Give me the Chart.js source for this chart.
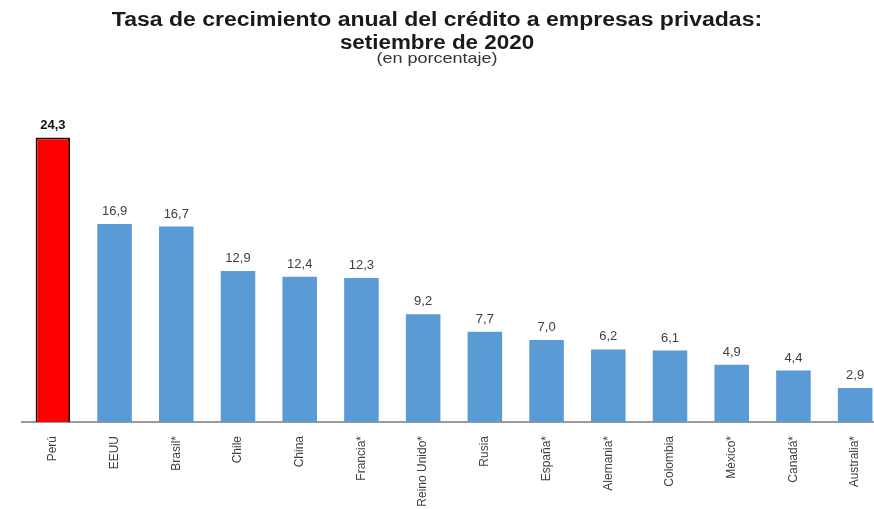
<!DOCTYPE html>
<html>
<head>
<meta charset="utf-8">
<script src="https://cdn.jsdelivr.net/npm/chart.js@4"></script>
<style>
    html, body { margin: 0; padding: 0; background: #fff; overflow: hidden; }
    body { width: 874px; height: 509px; position: relative; font-family: 'Liberation Sans', Arial, sans-serif; }
    .titulo { position: absolute; left: 0; width: 874px; text-align: center; color: #1a1a1a; white-space: nowrap; transform-origin: 437px 50%; }
    #t1 { top: 7px; font-size: 20px; line-height: 24px; font-weight: bold; transform: scaleX(1.15); }
    #t2 { top: 30px; font-size: 20px; line-height: 24px; font-weight: bold; transform: scaleX(1.12); }
    #t3 { top: 49px; font-size: 15px; line-height: 18px; color: #333; transform: scaleX(1.2); }
    #wrap { position: absolute; left: 0; top: 0; width: 886px; height: 509px; }
</style>
</head>
<body>
<div id="wrap"><canvas id="creditoChart"></canvas></div>
<div class="titulo" id="t1">Tasa de crecimiento anual del crédito a empresas privadas:</div>
<div class="titulo" id="t2">setiembre de 2020</div>
<div class="titulo" id="t3">(en porcentaje)</div>
<script>
const paises = ['Perú', 'EEUU', 'Brasil*', 'Chile', 'China', 'Francia*', 'Reino Unido*', 'Rusia', 'España*', 'Alemania*', 'Colombia', 'México*', 'Canadá*', 'Australia*'];
const crecimiento = [24.3, 16.9, 16.7, 12.9, 12.4, 12.3, 9.2, 7.7, 7.0, 6.2, 6.1, 4.9, 4.4, 2.9];

const colores = paises.map((p) => (p === 'Perú' ? '#ff0000' : '#5b9bd5'));
const bordes = paises.map((p) => (p === 'Perú' ? '#3a0000' : '#5b9bd5'));
const bordeAncho = paises.map((p) => (p === 'Perú' ? 2 : 0));

// etiquetas de valor encima de cada barra
const etiquetas = {
    id: 'etiquetas',
    afterDatasetsDraw(chart) {
        const ctx = chart.ctx;
        const meta = chart.getDatasetMeta(0);
        ctx.save();
        ctx.textAlign = 'center';
        ctx.textBaseline = 'bottom';
        meta.data.forEach((bar, i) => {
            const destacado = paises[i] === 'Perú';
            ctx.font = (destacado ? 'bold ' : '') + '13px "Liberation Sans", Arial, sans-serif';
            ctx.fillStyle = destacado ? '#111' : '#404040';
            ctx.fillText(crecimiento[i].toFixed(1).replace('.', ','), bar.x, bar.y - 6);
        });
        ctx.restore();
    },
};

new Chart(document.getElementById('creditoChart'), {
    type: 'bar',
    data: {
        labels: paises,
        datasets: [
            {
                data: crecimiento,
                backgroundColor: colores,
                borderColor: bordes,
                borderWidth: bordeAncho,
                barPercentage: 0.56,
                categoryPercentage: 1.0,
            },
        ],
    },
    options: {
        responsive: true,
        maintainAspectRatio: false,
        animation: false,
        layout: {
            padding: { left: 22, right: 0, top: 100, bottom: 0 },
        },
        plugins: {
            legend: { display: false },
            tooltip: { enabled: false },
        },
        scales: {
            x: {
                grid: { display: false },
                border: { display: true, color: '#9a9a9a', width: 2 },
                ticks: {
                    minRotation: 90,
                    maxRotation: 90,
                    autoSkip: false,
                    padding: 6,
                    color: '#404040',
                    font: { family: '"Liberation Sans", Arial, sans-serif', size: 12 },
                },
                afterFit: function (scale) {
                    scale.height = 87;
                },
            },
            y: {
                display: false,
                min: 0,
                max: 27.5,
            },
        },
    },
    plugins: [etiquetas],
});
</script>
</body>
</html>
